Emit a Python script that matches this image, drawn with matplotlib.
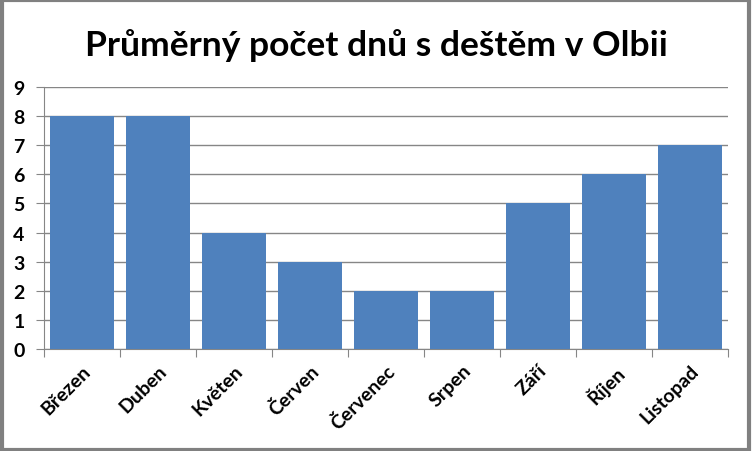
import matplotlib.pyplot as plt
from matplotlib.patches import Rectangle
import numpy as np

# data
months = ["Březen", "Duben", "Květen", "Červen", "Červenec", "Srpen", "Září", "Říjen", "Listopad"]
rain_days = [8, 8, 4, 3, 2, 2, 5, 6, 7]

plt.rcParams['font.family'] = ['Lato', 'DejaVu Sans']
plt.rcParams['font.weight'] = 'bold'

fig = plt.figure(figsize=(7.52, 4.52), dpi=100)
ax = fig.add_axes([44/752, 102/452, 684/752, 262/452])

x = np.arange(len(months))
ax.bar(x, rain_days, width=0.83, color='#4F81BD', zorder=3)

ax.set_xlim(-0.5, len(months) - 0.5)
ax.set_ylim(0, 9)
ax.set_yticks(range(0, 10))
ax.yaxis.grid(True, color='#868686', linewidth=1, zorder=0)

# category boundary ticks on x
ax.set_xticks(np.arange(-0.5, len(months) + 0.5, 1), minor=False)
ax.set_xticklabels([])
ax.set_xticks(x, minor=True)
ax.set_xticklabels(months, minor=True, rotation=45, ha='right', rotation_mode='anchor',
                   fontsize=14, fontweight='bold')
ax.tick_params(axis='x', which='major', length=6, color='#868686', direction='out')
ax.tick_params(axis='x', which='minor', length=0, pad=9)
ax.tick_params(axis='y', length=6, color='#868686', labelsize=14, pad=8)
for lbl in ax.get_yticklabels():
    lbl.set_fontweight('bold')

for s in ['top', 'right']:
    ax.spines[s].set_visible(False)
ax.spines['left'].set_color('#868686')
ax.spines['bottom'].set_color('#868686')

fig.text(0.5, 0.9, "Průměrný počet dnů s deštěm v Olbii", ha='center', va='center',
         fontsize=25.5, fontweight='bold')

# chart frame
fig.patches.append(Rectangle((0.002, 0.003), 0.994, 0.994, transform=fig.transFigure,
                             fill=False, edgecolor='#808080', linewidth=3))

fig.savefig('out.png', dpi=100)
